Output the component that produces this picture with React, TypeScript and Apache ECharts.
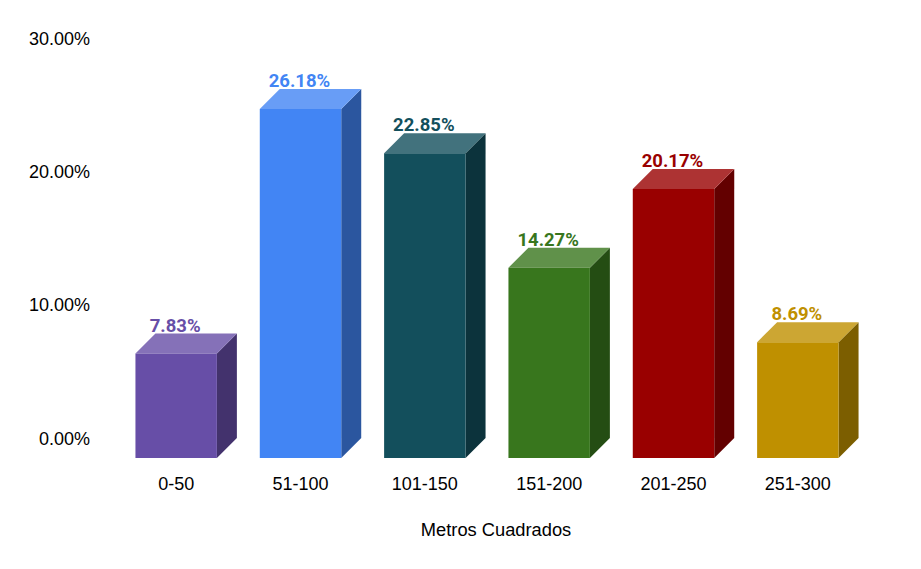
import React, { useEffect, useRef } from "react";
import * as echarts from "echarts";

const categories = ["0-50", "51-100", "101-150", "151-200", "201-250", "251-300"];
const shares = [7.83, 26.18, 22.85, 14.27, 20.17, 8.69];
const frontColors = ["#674ea7", "#4285f4", "#134f5c", "#38761d", "#990000", "#bf9000"];
const topColors = ["#8571b8", "#689df6", "#42727d", "#60914a", "#ad3333", "#cca633"];
const sideColors = ["#43326d", "#2b569f", "#0c333c", "#244d13", "#630000", "#7c5e00"];
const axisTitle = "Metros Cuadrados";

const DEPTH = 20;
const BAR_RATIO = 0.655;

function renderBar(params: any, api: any) {
  const i = api.value(0);
  const v = api.value(1);
  const [cx, top] = api.coord([i, v]);
  const [, base] = api.coord([i, 0]);
  const w = api.size([1, 0])[0] * BAR_RATIO;
  const l = cx - w / 2;
  const r = cx + w / 2;
  return {
    type: "group",
    children: [
      {
        type: "polygon",
        shape: { points: [[r, top], [r + DEPTH, top - DEPTH], [r + DEPTH, base - DEPTH], [r, base]] },
        style: { fill: sideColors[i] },
      },
      {
        type: "polygon",
        shape: { points: [[l, top], [l + DEPTH, top - DEPTH], [r + DEPTH, top - DEPTH], [r, top]] },
        style: { fill: topColors[i] },
      },
      {
        type: "rect",
        shape: { x: l, y: top, width: w, height: base - top },
        style: { fill: frontColors[i] },
      },
      {
        type: "text",
        x: cx - 1,
        y: top - 28,
        style: {
          text: shares[i].toFixed(2) + "%",
          fill: frontColors[i],
          font: "700 18.5px Roboto",
          align: "center",
          verticalAlign: "middle",
          stroke: "#fff",
          lineWidth: 2,
        },
      },
    ],
  };
}

export default function App() {
  const ref = useRef<HTMLDivElement>(null);
  useEffect(() => {
    const chart = echarts.init(ref.current!, undefined, { renderer: "svg" });
    chart.setOption({
      animation: false,
      backgroundColor: "#fff",
      grid: { left: 114, right: 61, top: 58, bottom: 111, containLabel: false },
      xAxis: {
        type: "category",
        data: categories,
        name: axisTitle,
        nameLocation: "middle",
        nameGap: 62,
        nameTextStyle: {
          color: "#000",
          fontFamily: "Liberation Sans",
          fontSize: 18.3,
          padding: [0, 0, 0, 18],
        },
        axisLine: { show: false },
        axisTick: { show: false },
        axisLabel: { color: "#000", fontFamily: "Liberation Sans", fontSize: 18, margin: 17 },
      },
      yAxis: {
        type: "value",
        min: 0,
        max: 30,
        interval: 10,
        axisLine: { show: false },
        axisTick: { show: false },
        splitLine: { show: false },
        axisLabel: {
          color: "#000",
          fontFamily: "Liberation Sans",
          fontSize: 18,
          margin: 24,
          verticalAlign: "bottom",
          lineHeight: 39,
          formatter: (v: number) => v.toFixed(2) + "%",
        },
      },
      series: [
        {
          type: "custom",
          renderItem: renderBar,
          encode: { x: 0, y: 1 },
          data: shares.map((v, i) => [i, v]),
          clip: false,
        },
      ],
    });
    return () => chart.dispose();
  }, []);
  return <div ref={ref} style={{ position: "fixed", left: 0, top: 0, width: 921, height: 569 }} />;
}
